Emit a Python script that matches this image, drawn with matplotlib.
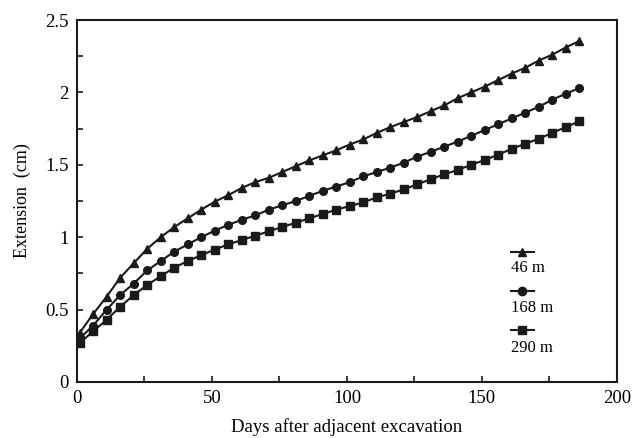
import numpy as np
import matplotlib.pyplot as plt
from matplotlib.lines import Line2D
from matplotlib.ticker import MultipleLocator

plt.rcParams['font.family'] = ['Liberation Serif', 'DejaVu Serif']

# readings every 5 days
days = np.arange(1, 187, 5)

ext_46 = [0.34, 0.47, 0.59, 0.72, 0.82, 0.92, 1.00, 1.07, 1.13, 1.19, 1.245, 1.29, 1.34,
          1.38, 1.41, 1.45, 1.49, 1.53, 1.565, 1.60, 1.64, 1.675, 1.72, 1.76, 1.795,
          1.83, 1.87, 1.91, 1.96, 2.00, 2.04, 2.085, 2.13, 2.17, 2.22, 2.26, 2.31, 2.355]
ext_168 = [0.30, 0.39, 0.50, 0.60, 0.68, 0.77, 0.835, 0.90, 0.95, 1.00, 1.045, 1.085, 1.12,
           1.15, 1.19, 1.22, 1.25, 1.285, 1.32, 1.35, 1.38, 1.42, 1.45, 1.48, 1.515,
           1.556, 1.59, 1.625, 1.66, 1.70, 1.74, 1.78, 1.82, 1.86, 1.90, 1.95, 1.99, 2.03]
ext_290 = [0.27, 0.35, 0.43, 0.52, 0.60, 0.67, 0.73, 0.79, 0.835, 0.875, 0.915, 0.95, 0.98,
           1.01, 1.04, 1.07, 1.10, 1.13, 1.16, 1.19, 1.215, 1.24, 1.275, 1.30, 1.33,
           1.365, 1.40, 1.434, 1.464, 1.50, 1.533, 1.57, 1.61, 1.645, 1.68, 1.72, 1.76, 1.80]

labels = ['46 m', '168 m', '290 m']
markers = ['^', 'o', 's']

fig = plt.figure(figsize=(6.4, 4.38), dpi=100)
ax = fig.add_axes([0.1203, 0.1279, 0.8437, 0.8264])

for ys, m in zip([ext_46, ext_168, ext_290], markers):
    ax.plot(days, ys, color='#1a1a1a', lw=1.5, marker=m, ms=5.5, mec='#1a1a1a', mfc='#1a1a1a')

ax.set_xlim(0, 200)
ax.set_ylim(0, 2.5)
ax.xaxis.set_minor_locator(MultipleLocator(25))
ax.yaxis.set_minor_locator(MultipleLocator(0.25))
ax.set_xticks([0, 50, 100, 150, 200])
ax.set_xticklabels(['0', '50', '100', '150', '200'])
ax.set_yticks([0, 0.5, 1, 1.5, 2, 2.5])
ax.set_yticklabels(['0', '0.5', '1', '1.5', '2', '2.5'])
ax.tick_params(which='both', direction='in', labelsize=13.5, color='#1a1a1a')
ax.tick_params(which='major', length=4, width=1.2, pad=6)
ax.tick_params(which='minor', length=4, width=1.2)
for s in ax.spines.values():
    s.set_linewidth(1.5)
    s.set_color('#1a1a1a')

ax.set_xlabel('Days after adjacent excavation', fontsize=13.5, labelpad=8)
ax.set_ylabel('Extension  (cm)', fontsize=13, labelpad=10)

# legend: symbol stacked above label
hy = [0.359, 0.251, 0.144]
ty = [0.315, 0.204, 0.094]
for m, lab, y1, y2 in zip(markers, labels, hy, ty):
    ax.add_line(Line2D([0.804, 0.846], [y1, y1], transform=ax.transAxes, color='#1a1a1a', lw=1.5))
    ax.add_line(Line2D([0.825], [y1], transform=ax.transAxes, marker=m, ms=6,
                       color='#1a1a1a', lw=0))
    ax.text(0.804, y2, lab, transform=ax.transAxes, fontsize=12, va='center', ha='left')

fig.savefig('out.png', dpi=100)
